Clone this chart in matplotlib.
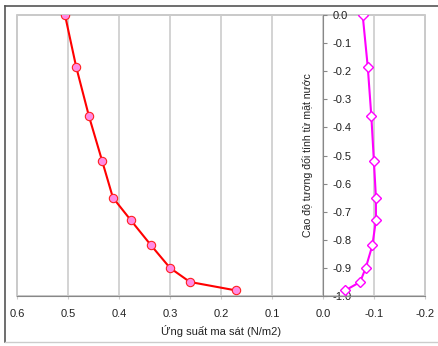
import matplotlib.pyplot as plt
from matplotlib.ticker import FormatStrFormatter, MultipleLocator
from matplotlib.patches import Rectangle

plt.rcParams['font.family'] = ['Liberation Sans', 'DejaVu Sans']

# depth (relative to water surface)
depth = [0.0, -0.185, -0.36, -0.52, -0.65, -0.73, -0.82, -0.90, -0.95, -0.98]
# friction stress, two series
stress_a = [0.506, 0.484, 0.459, 0.433, 0.412, 0.377, 0.337, 0.300, 0.261, 0.171]
stress_b = [-0.078, -0.088, -0.095, -0.100, -0.104, -0.104, -0.097, -0.084, -0.073, -0.044]

xlabel = 'Ứng suất ma sát (N/m2)'
ylabel = 'Cao độ tương đối tính từ mặt nước'

fig = plt.figure(figsize=(4.38, 3.46), dpi=100)
ax = fig.add_axes([0.039, 0.1445, 0.931, 0.812])

ax.plot(stress_a, depth, color='#ff0000', lw=1.5, marker='o', ms=6,
        mfc='#ff8ce6', mec='#ff2020', mew=0.8, zorder=3)
ax.plot(stress_b, depth, color='#ff00ff', lw=1.5, marker='D', ms=4.8,
        mfc='white', mec='#ff00ff', mew=1.0, zorder=3)

ax.set_xlim(0.6, -0.2)
ax.set_ylim(-1.0, 0.0)
ax.xaxis.set_major_locator(MultipleLocator(0.1))
ax.yaxis.set_major_locator(MultipleLocator(0.1))
ax.xaxis.set_major_formatter(FormatStrFormatter('%.1f'))
ax.yaxis.set_major_formatter(FormatStrFormatter('%.1f'))

ax.grid(axis='x', color='#cccccc', lw=1.2)
ax.set_axisbelow(True)

# y axis sits at x = 0, labels to its right
for s in ['left', 'top']:
    ax.spines[s].set_visible(False)
ax.spines['right'].set_position(('data', 0))
ax.spines['right'].set_color('#888888')
ax.spines['bottom'].set_color('#888888')
ax.yaxis.tick_right()
ax.tick_params(axis='y', direction='out', length=3, color='#888888',
               labelsize=8, labelcolor='#222222', pad=4)
ax.tick_params(axis='x', direction='out', length=2, color='#cccccc',
               labelsize=8, labelcolor='#222222', pad=7)

# plot area frame
ax.add_patch(Rectangle((0, 0), 1, 1, transform=ax.transAxes, fill=False,
                       ec='#c0c0c0', lw=1.2, clip_on=False, zorder=0))

ax.text(0.03, -0.5, ylabel, rotation=90, ha='center', va='center',
        fontsize=7.6, color='#222222')
ax.set_xlabel(xlabel, fontsize=8, color='#222222', labelpad=5)

# outer chart border
fig.add_artist(plt.Line2D([0.012, 0.012], [0.012, 0.984], color='#555555', lw=1.2,
                          transform=fig.transFigure))
fig.add_artist(plt.Line2D([0.012, 1.0], [0.984, 0.984], color='#555555', lw=1.2,
                          transform=fig.transFigure))
fig.add_artist(plt.Line2D([0.012, 1.0], [0.012, 0.012], color='#cccccc', lw=1.0,
                          transform=fig.transFigure))

fig.savefig('out.png', dpi=100)
